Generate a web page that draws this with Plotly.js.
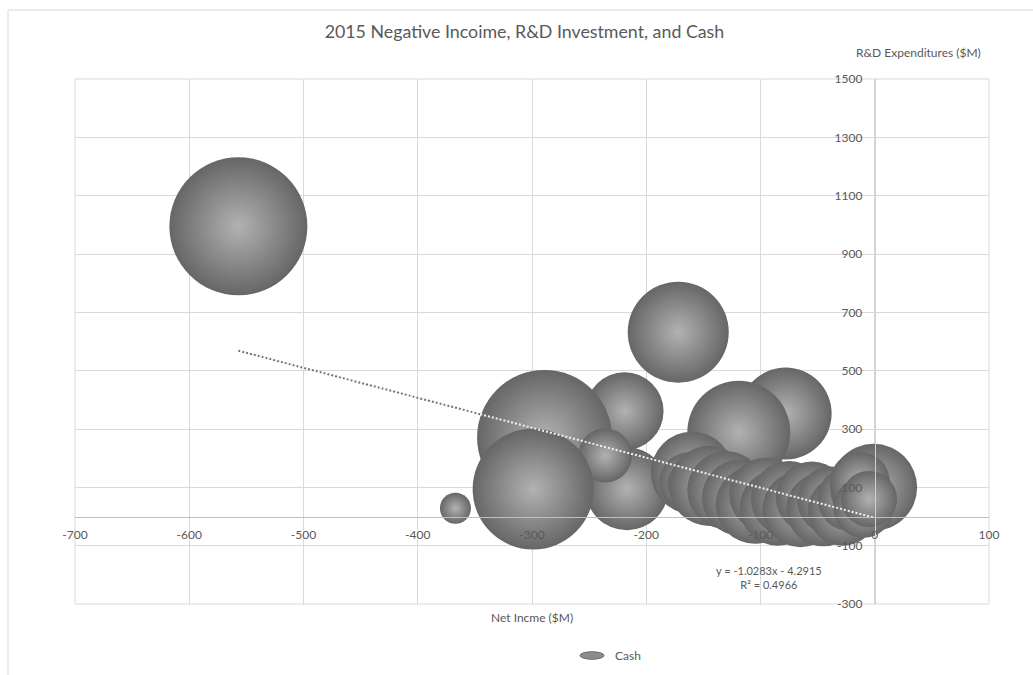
<!DOCTYPE html>
<html>
<head>
<meta charset="utf-8">
<script src="https://cdn.plot.ly/plotly-3.0.1.min.js"></script>
<style>
  html, body { margin: 0; padding: 0; background: #ffffff; }
  #chart { width: 1033px; height: 675px; }
</style>
</head>
<body>
<div id="chart"></div>
<script>
// Net income ($M), R&D expenditures ($M) and cash ($M, bubble size) per company, 2015
const netIncome = [-557, -367, -219, -289, -217, -236, -299, -172, -78, -119,
  -160, -163, -165, -145, -130, -118, -105, -95, -85, -75, -65, -55, -45, -38, -28, -22,
  -1, -13, -10, -5];
const rdSpend = [995, 28, 361, 271, 95, 209, 94, 632, 353, 289,
  150, 120, 115, 105, 90, 65, 40, 75, 30, 60, 25, 65, 25, 55, 20, 60,
  100, 118, 30, 60];
const cash = [1900, 96, 607, 1818, 687, 291, 1461, 1018, 844, 1058,
  671, 336, 144, 639, 607, 576, 607, 546, 576, 576, 576, 517, 546, 461, 489, 409,
  755, 359, 359, 313];

// Linear trendline fitted to the series
const trendSlope = -1.0283;
const trendIntercept = -4.2915;
const trendR2 = 0.4966;

const xTicks = [-700, -600, -500, -400, -300, -200, -100, 0, 100];
const yTicks = [-300, -100, 100, 300, 500, 700, 900, 1100, 1300, 1500];

const xMin = Math.min(...netIncome), xMax = Math.max(...netIncome);
const trendX = [xMin, xMax];
const trendY = trendX.map(v => trendSlope * v + trendIntercept);

const textGray = '#595959';
const gridGray = '#d9d9d9';
const fontFamily = 'Lato, "Open Sans", sans-serif';
const maxBubblePx = 138;

const xRange = [xTicks[0], xTicks[xTicks.length - 1]];
const yRange = [yTicks[0], yTicks[yTicks.length - 1]];

const traces = [
  // dark dots: visible over the white background
  {
    x: trendX, y: trendY, type: 'scatter', mode: 'lines', showlegend: false,
    hoverinfo: 'skip',
    line: { color: '#6f6f6f', width: 2, dash: '2px,2px' }
  },
  {
    x: netIncome, y: rdSpend, type: 'scatter', mode: 'markers', name: 'Cash',
    showlegend: false,
    marker: {
      size: cash, sizemode: 'area',
      sizeref: 2 * Math.max(...cash) / (maxBubblePx * maxBubblePx),
      color: '#666666',
      gradient: { type: 'radial', color: '#b2b2b2' },
      line: { width: 0 },
      opacity: 1
    }
  },
  // light dots interleaved with the dark ones: visible on top of bubbles
  {
    x: trendX, y: trendY, type: 'scatter', mode: 'lines', showlegend: false,
    hoverinfo: 'skip',
    line: { color: '#f2f2f2', width: 2, dash: '0px,2px,2px,0px' }
  }
];

const fmt = v => (v < 0 ? ' - ' : ' + ') + Math.abs(v);

const layout = {
  width: 1033, height: 675,
  margin: { l: 75, r: 44, t: 79, b: 71 },
  paper_bgcolor: '#ffffff', plot_bgcolor: '#ffffff',
  font: { family: fontFamily, color: textGray, size: 12 },
  showlegend: false,
  title: {
    text: '2015 Negative Incoime, R&D Investment, and Cash',
    xref: 'container', yref: 'container', x: 0.5077, y: 0.9526,
    xanchor: 'center', yanchor: 'middle',
    font: { family: fontFamily, size: 17.8, color: textGray }
  },
  xaxis: {
    range: xRange, tickvals: xTicks, ticktext: xTicks.map(String),
    anchor: 'free',
    position: (0 - yRange[0]) / (yRange[1] - yRange[0]),
    showgrid: true, gridcolor: gridGray, gridwidth: 1,
    zeroline: false, showline: true, linecolor: '#bfbfbf', linewidth: 1,
    ticks: '', ticklabelstandoff: 7,
    tickfont: { family: fontFamily, size: 12, color: textGray },
    fixedrange: true
  },
  yaxis: {
    range: yRange, tickvals: yTicks, ticktext: yTicks.map(String),
    anchor: 'free', side: 'left',
    position: (0 - xRange[0]) / (xRange[1] - xRange[0]),
    showgrid: true, gridcolor: gridGray, gridwidth: 1,
    zeroline: false, showline: true, linecolor: '#d0d0d0', linewidth: 1,
    ticks: '', ticklabelstandoff: 10,
    tickfont: { family: fontFamily, size: 12, color: textGray },
    fixedrange: true
  },
  shapes: [
    // chart area frame
    { type: 'rect', xref: 'paper', yref: 'paper', x0: -0.0733, x1: 1.2, y0: -0.3, y1: 1.1314,
      line: { color: gridGray, width: 1 }, layer: 'below' },
    // plot area frame
    { type: 'rect', xref: 'paper', yref: 'paper', x0: 0, x1: 1, y0: 0, y1: 1,
      line: { color: gridGray, width: 1 }, layer: 'below' },
    // legend swatch
    { type: 'circle', xref: 'paper', yref: 'paper', x0: 0.5525, x1: 0.5788, y0: -0.1053, y1: -0.0909,
      fillcolor: '#8c8c8c', line: { color: '#6c6c6c', width: 1 } }
  ],
  annotations: [
    { text: 'R&D Expenditures ($M)', xref: 'paper', yref: 'paper', x: 0.9234, y: 1.0514,
      xanchor: 'center', yanchor: 'middle', showarrow: false,
      font: { family: fontFamily, size: 12, color: textGray } },
    { text: 'Net Incme ($M)', xref: 'paper', yref: 'paper', x: 0.5005, y: -0.0257,
      xanchor: 'center', yanchor: 'middle', showarrow: false,
      font: { family: fontFamily, size: 12, color: textGray } },
    { text: 'y = ' + trendSlope + 'x' + fmt(trendIntercept) + '<br>R² = ' + trendR2,
      xref: 'paper', yref: 'paper', x: 0.7593, y: 0.0505, align: 'center',
      xanchor: 'center', yanchor: 'middle', showarrow: false,
      font: { family: fontFamily, size: 11, color: textGray } },
    { text: 'Cash', xref: 'paper', yref: 'paper', x: 0.5886, y: -0.099,
      xanchor: 'left', yanchor: 'middle', showarrow: false,
      font: { family: fontFamily, size: 12, color: textGray } }
  ]
};

Plotly.newPlot('chart', traces, layout, { staticPlot: true, displayModeBar: false });
</script>
</body>
</html>
